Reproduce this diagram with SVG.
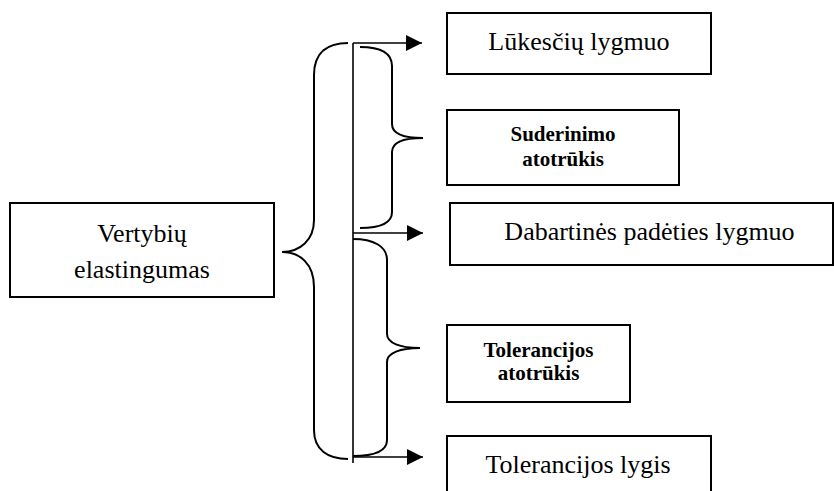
<svg xmlns="http://www.w3.org/2000/svg" width="834" height="491" viewBox="0 0 834 491">
<style>
.box{fill:#fff;stroke:#000;stroke-width:2}
.t{font-size:26px;fill:#000;text-anchor:middle}
.b{font-size:21px;font-weight:bold;fill:#000;text-anchor:middle}
.ln{fill:none;stroke:#000;stroke-width:1.6}
.br{fill:none;stroke:#000;stroke-width:2}
</style>
<defs>
<marker id="ah" markerUnits="userSpaceOnUse" markerWidth="17" markerHeight="17" refX="16" refY="8" orient="auto">
<path d="M0,0 L16,8 L0,16 Z" fill="#000"/>
</marker>
</defs>
<rect width="834" height="491" fill="#fff"/>
<g font-family="Liberation Serif, Times New Roman, serif">
<g id="node-vertybiu">
<rect class="box" x="10" y="203" width="264" height="94"/>
<text class="t" x="142" y="242">Vertybių</text>
<text class="t" x="142" y="278">elastingumas</text>
</g>
<g id="node-lukesciu">
<rect class="box" x="447" y="13" width="264" height="61"/>
<text class="t" x="579" y="50">Lūkesčių lygmuo</text>
</g>
<g id="node-suderinimo">
<rect class="box" x="447" y="110" width="232" height="75"/>
<text class="b" x="563" y="141">Suderinimo</text>
<text class="b" x="563" y="166">atotrūkis</text>
</g>
<g id="node-dabartines">
<rect class="box" x="450" y="203" width="383" height="62"/>
<text class="t" x="649.5" y="240">Dabartinės padėties lygmuo</text>
</g>
<g id="node-tolerancijos-atotrukis">
<rect class="box" x="447" y="325" width="183" height="77"/>
<text class="b" x="538.5" y="357">Tolerancijos</text>
<text class="b" x="538.5" y="380">atotrūkis</text>
</g>
<g id="node-tolerancijos-lygis">
<rect class="box" x="447" y="436" width="264" height="62"/>
<text class="t" x="578" y="473">Tolerancijos lygis</text>
</g>
</g>
<g id="connectors">
<line class="ln" x1="353" y1="43" x2="353" y2="463"/>
<line class="ln" x1="353" y1="43" x2="422" y2="43" marker-end="url(#ah)"/>
<line class="ln" x1="353" y1="233" x2="423" y2="233" marker-end="url(#ah)"/>
<line class="ln" x1="353" y1="457" x2="423" y2="457" marker-end="url(#ah)"/>
<path class="br" d="M348,43 C328,43 314,52 314,75 L314,220 C314,240 300,252 282,252 C300,252 314,264 314,287 L314,430 C314,450 328,459 348,459"/>
<path class="br" d="M360,47 C380,47 392,52 392,66 L392,124 C392,133 402,138 423,138 C402,138 392,143 392,152 L392,212 C392,224 378,228 360,228"/>
<path class="br" d="M353,239 C373,239 387,246 387,260 L387,334 C387,343 400,348 420,348 C400,348 387,353 387,362 L387,440 C387,452 373,456 353,456"/>
</g>
</svg>
